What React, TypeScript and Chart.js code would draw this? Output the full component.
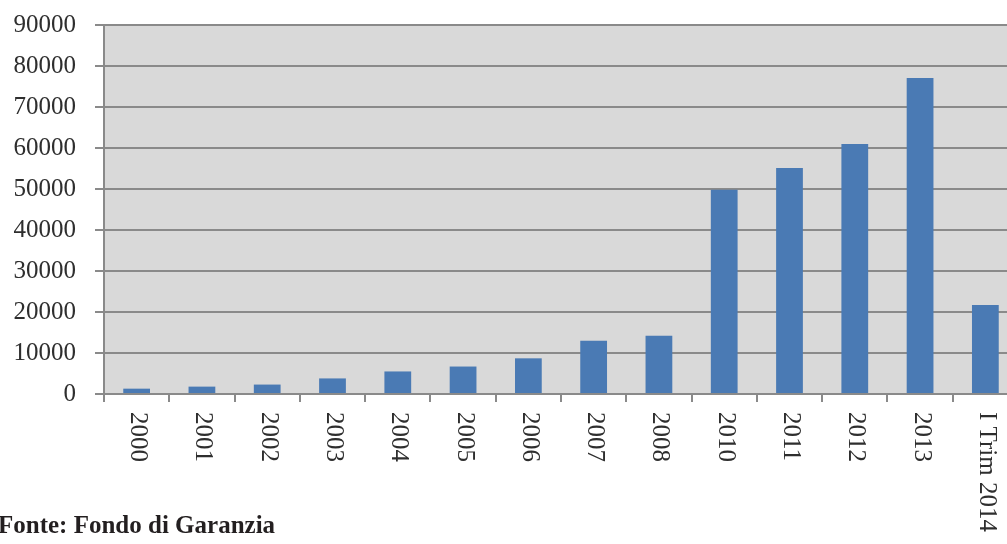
import React, { useEffect, useRef } from "react";
import { Chart, registerables } from "chart.js";

Chart.register(...registerables);

const categories = [
  "2000", "2001", "2002", "2003", "2004", "2005", "2006",
  "2007", "2008", "2010", "2011", "2012", "2013", "I Trim 2014",
];
const values = [
  1300, 1800, 2300, 3800, 5500, 6700, 8700,
  13000, 14200, 49800, 55100, 61000, 77100, 21700,
];
const yMin = 0;
const yMax = 90000;
const yStep = 10000;
const sourceText = "Fonte: Fondo di Garanzia";

const FONT = "'Liberation Serif', 'DejaVu Serif', serif";
const GRID = "#8a8a8a";

const plotBg = {
  id: "plotBg",
  beforeDraw(chart: any) {
    const { ctx, chartArea } = chart;
    ctx.save();
    ctx.fillStyle = "#d9d9d9";
    ctx.fillRect(chartArea.left, chartArea.top, chartArea.right - chartArea.left, chartArea.bottom - chartArea.top);
    ctx.restore();
  },
};

const rotatedXLabels = {
  id: "rotatedXLabels",
  afterDraw(chart: any) {
    const { ctx, chartArea } = chart;
    const xs = chart.scales.x;
    ctx.save();
    ctx.fillStyle = "#2e2e2e";
    ctx.font = `25px ${FONT}`;
    ctx.textAlign = "left";
    ctx.textBaseline = "middle";
    const labels = chart.data.labels as string[];
    labels.forEach((lab, i) => {
      const x = xs.getPixelForTick(i);
      ctx.save();
      ctx.translate(x + 1, chartArea.bottom + 18);
      ctx.rotate(Math.PI / 2);
      ctx.fillText(lab, 0, 0);
      ctx.restore();
    });
    ctx.restore();
  },
};

export default function App() {
  const ref = useRef<HTMLCanvasElement | null>(null);
  useEffect(() => {
    if (!ref.current) return;
    const chart = new Chart(ref.current, {
      type: "bar",
      data: {
        labels: categories,
        datasets: [
          {
            data: values,
            backgroundColor: "#4a7ab4",
            borderWidth: 0,
            barPercentage: 0.41,
            categoryPercentage: 1,
          },
        ],
      },
      options: {
        animation: false,
        responsive: false,
        devicePixelRatio: 1,
        layout: { padding: { top: 25, right: 12, bottom: 0, left: 0 } },
        plugins: { legend: { display: false }, tooltip: { enabled: false } },
        scales: {
          x: {
            offset: true,
            grid: {
              display: true,
              offset: true,
              drawOnChartArea: false,
              drawTicks: true,
              tickLength: 8,
              color: GRID,
              lineWidth: 2,
            },
            border: { display: true, color: GRID, width: 2 },
            ticks: { display: false },
            afterFit(scale: any) {
              scale.height = 150;
              scale.paddingLeft = 0;
              scale.paddingRight = 0;
            },
          },
          y: {
            min: yMin,
            max: yMax,
            grid: {
              color: GRID,
              lineWidth: 2,
              tickLength: 9,
              drawTicks: true,
            },
            border: { display: true, color: GRID, width: 2 },
            ticks: {
              stepSize: yStep,
              padding: 19,
              color: "#2e2e2e",
              font: { family: FONT, size: 25 },
              callback: (v: any) => String(v),
            },
            afterFit(scale: any) {
              scale.width = 104;
              scale.paddingTop = 0;
              scale.paddingBottom = 0;
            },
          },
        },
      },
      plugins: [plotBg, rotatedXLabels],
    });
    return () => chart.destroy();
  }, []);

  return (
    <div
      style={{
        position: "fixed",
        left: 0,
        top: 0,
        width: 1007,
        height: 544,
        overflow: "hidden",
        background: "#ffffff",
      }}
    >
      <canvas ref={ref} width={1030} height={544} style={{ display: "block", width: 1030, height: 544 }} />
      <div
        style={{
          position: "absolute",
          left: -2,
          top: 510,
          fontFamily: FONT,
          fontWeight: "bold",
          fontSize: 25,
          lineHeight: "30px",
          color: "#231f20",
          whiteSpace: "nowrap",
        }}
      >
        {sourceText}
      </div>
    </div>
  );
}
